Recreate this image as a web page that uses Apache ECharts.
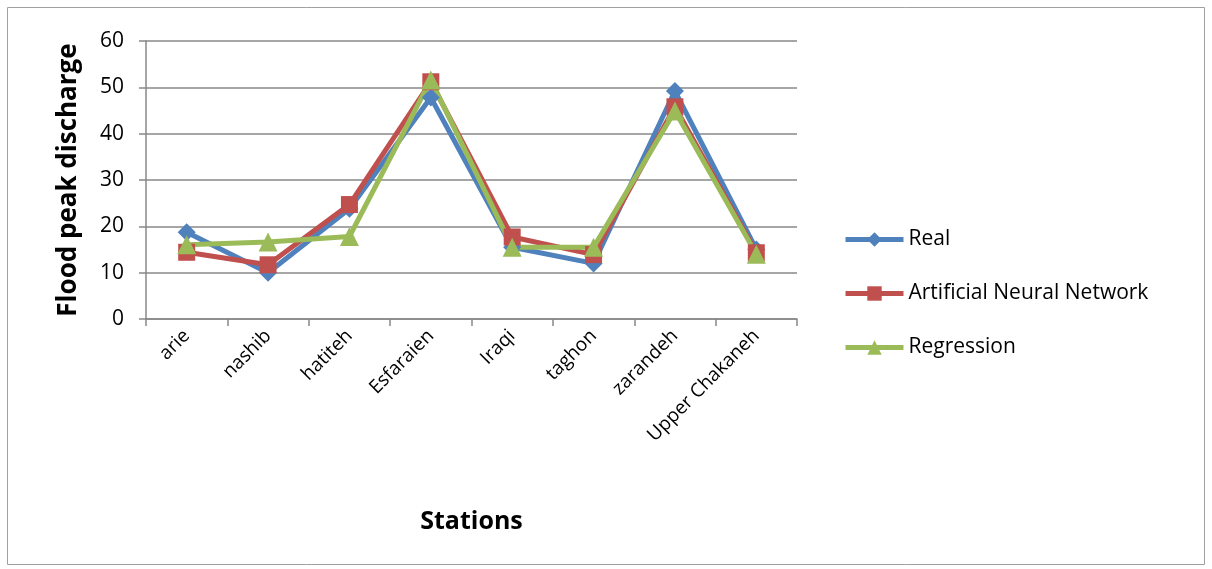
<!DOCTYPE html>
<html><head><meta charset="utf-8">
<script src="https://cdn.jsdelivr.net/npm/echarts@6/dist/echarts.min.js"></script>
<style>html,body{margin:0;padding:0;background:#fff}#c{width:1212px;height:569px}</style>
</head><body><div id="c"></div>
<script>
const categories = ['arie','nashib','hatiteh','Esfaraien','Iraqi','taghon','zarandeh','Upper Chakaneh'];
const realValues = [18.7, 10, 23.8, 47.8, 15.5, 12, 49.2, 15];
const annValues = [14.4, 11.7, 24.7, 51.2, 17.7, 13.9, 45.8, 14.3];
const regressionValues = [16, 16.6, 17.8, 51.6, 15.5, 15.5, 44.9, 14];
const yTicks = [0, 10, 20, 30, 40, 50, 60];

const font = 'Open Sans, Liberation Sans, sans-serif';
const chart = echarts.init(document.getElementById('c'), null, {renderer: 'canvas'});
const mk = (name, data, color, symbol, size) => ({
  name, type: 'line', data, symbol, symbolSize: size,
  lineStyle: {width: 5, color}, itemStyle: {color},
  emphasis: {disabled: true}, z: 3
});
chart.setOption({
  animation: false,
  graphic: [{type: 'rect', shape: {x: 7.5, y: 7.5, width: 1197, height: 557},
    style: {fill: 'none', stroke: '#a0a0a0', lineWidth: 1}}],
  grid: {left: 146, right: 415, top: 41, bottom: 250, containLabel: false},
  legend: {
    orient: 'vertical', left: 838, top: 224, itemGap: 33, itemWidth: 58, itemHeight: 18,
    lineStyle: {width: 5},
    textStyle: {fontFamily: font, fontSize: 21, color: '#000'},
    data: ['Real', 'Artificial Neural Network', 'Regression']
  },
  xAxis: {
    type: 'category', data: categories, boundaryGap: true,
    name: 'Stations', nameLocation: 'middle', nameGap: 190,
    nameTextStyle: {fontFamily: font, fontSize: 25, fontWeight: 'bold', color: '#000'},
    axisLine: {lineStyle: {color: '#888', width: 1.5}},
    axisTick: {show: true, length: 7, lineStyle: {color: '#888', width: 1.5}},
    axisLabel: {rotate: 45, fontFamily: font, fontSize: 19, color: '#000', margin: 14}
  },
  yAxis: {
    type: 'value', min: 0, max: 60, interval: 10,
    name: 'Flood peak discharge', nameLocation: 'middle', nameGap: 64, nameRotate: 90,
    nameTextStyle: {fontFamily: font, fontSize: 26, fontWeight: 'bold', color: '#000'},
    axisLine: {show: true, lineStyle: {color: '#888', width: 1.5}},
    axisTick: {show: true, length: 7, lineStyle: {color: '#888', width: 1.5}},
    splitLine: {lineStyle: {color: '#888', width: 1.5}},
    axisLabel: {fontFamily: font, fontSize: 21, color: '#000', margin: 22,
      formatter: v => yTicks.includes(v) ? String(v) : ''}
  },
  series: [
    mk('Real', realValues, '#4f81bd', 'diamond', 18),
    mk('Artificial Neural Network', annValues, '#c0504d', 'rect', 17),
    mk('Regression', regressionValues, '#9bbb59', 'triangle', 19)
  ]
});
</script></body></html>
